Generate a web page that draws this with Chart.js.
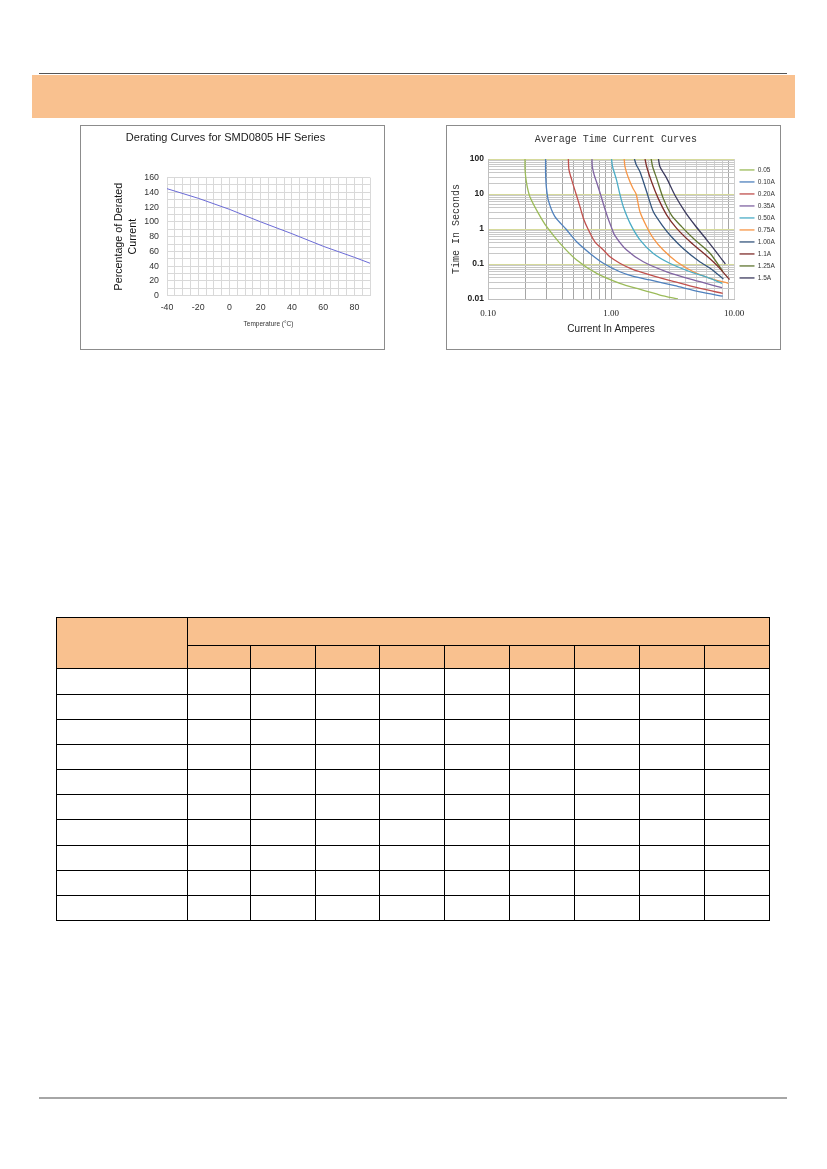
<!DOCTYPE html>
<html>
<head>
<meta charset="utf-8">
<script src="https://cdn.jsdelivr.net/npm/chart.js@4.4.1/dist/chart.umd.min.js"></script>
<style>
  body { margin: 0; background: #fff; }
  #page { position: relative; width: 827px; height: 1169px; overflow: hidden; }
  .topline { position: absolute; left: 39px; top: 73px; width: 748px; height: 1px; background: #555; }
  .band { position: absolute; left: 32px; top: 75px; width: 763px; height: 43px; background: #f9c18f; }
  .box { position: absolute; border: 1px solid #8c8c8c; }
  #leftBox { left: 80px; top: 125px; width: 303px; height: 223px; }
  #rightBox { left: 446px; top: 125px; width: 333px; height: 223px; }
  canvas { display: block; }
  table { position: absolute; left: 56px; top: 617px; width: 713px; border-collapse: collapse; table-layout: fixed; }
  td { border: 1.5px solid #000; padding: 0; }
  td.hd { background: #f9c18f; }
  .bottomline { position: absolute; left: 39px; top: 1097px; width: 748px; height: 2px; background: #a6a6a6; }
</style>
</head>
<body>
<div id="page">
  <div class="topline"></div>
  <div class="band"></div>
  <div class="box" id="leftBox"><canvas id="derating" width="303" height="223"></canvas></div>
  <div class="box" id="rightBox"><canvas id="timeCurrent" width="333" height="223"></canvas></div>
  <table id="specTable"></table>
  <div class="bottomline"></div>
</div>

<script>
// ---- derating chart data ----
const temps = [-40, -20, 0, 20, 40, 60, 80, 90];
const derated = [145, 132, 117, 100, 84, 67, 52, 44];

// ---- time-current curves data (current in A, time in s) ----
const seriesLabels = ['0.05', '0.10A', '0.20A', '0.35A', '0.50A', '0.75A', '1.00A', '1.1A', '1.25A', '1.5A'];
const seriesColors = ['#9bbb59', '#4f81bd', '#c0504d', '#8064a2', '#4bacc6', '#f79646', '#34557d', '#7f2d2a', '#5f7530', '#3b3a5e'];

const cur005 = [0.20, 0.20, 0.206, 0.219, 0.257, 0.30, 0.385, 0.526, 0.765, 1.18, 1.7, 2.5, 3.5];
const time005 = [100, 50, 20, 8.4, 2.8, 1.16, 0.39, 0.13, 0.054, 0.028, 0.019, 0.013, 0.01];

const cur010 = [0.294, 0.294, 0.298, 0.309, 0.35, 0.43, 0.526, 0.675, 0.866, 1.18, 1.5, 2.07, 3.3, 5.3, 8.1];
const time010 = [100, 40, 16, 6.7, 2.25, 1, 0.43, 0.2, 0.105, 0.06, 0.045, 0.035, 0.024, 0.016, 0.012];

const cur020 = [0.45, 0.455, 0.48, 0.52, 0.56, 0.60, 0.65, 0.74, 0.866, 0.98, 1.18, 1.5, 2.07, 3.2, 5.3, 8.1];
const time020 = [100, 50, 25, 10, 4.3, 1.9, 1, 0.43, 0.25, 0.16, 0.105, 0.07, 0.049, 0.032, 0.02, 0.0145];

const cur035 = [0.70, 0.705, 0.73, 0.77, 0.82, 0.87, 0.93, 1.0, 1.07, 1.34, 1.83, 2.84, 4.67, 8.0];
const time035 = [100, 60, 35, 20, 10, 5, 2.4, 1.2, 0.67, 0.25, 0.116, 0.06, 0.035, 0.021];

const cur050 = [1.01, 1.03, 1.11, 1.18, 1.26, 1.43, 1.72, 2.21, 3.0, 4.4, 6.0, 8.0];
const time050 = [100, 60, 25, 10, 4.3, 1.45, 0.49, 0.2, 0.105, 0.06, 0.042, 0.028];

const cur075 = [1.28, 1.30, 1.38, 1.50, 1.60, 1.72, 1.95, 2.21, 2.66, 3.42, 4.67, 6.4, 9.0];
const time075 = [100, 60, 30, 15, 10, 3.1, 1.16, 0.54, 0.25, 0.116, 0.06, 0.039, 0.028];

const cur100 = [1.55, 1.60, 1.72, 1.95, 2.21, 2.6, 3.1, 3.9, 5.2, 6.6, 8.2];
const time100 = [100, 70, 43, 11.6, 3.1, 1.3, 0.6, 0.27, 0.12, 0.07, 0.037];

const cur110 = [1.89, 1.95, 2.14, 2.42, 2.84, 3.42, 4.4, 5.8, 7.3, 9.2];
const time110 = [100, 60, 22, 7.5, 2.5, 1.04, 0.43, 0.19, 0.09, 0.036];

const cur125 = [2.12, 2.18, 2.35, 2.66, 3.1, 3.75, 4.8, 6.4, 8.1];
const time125 = [100, 60, 28, 7.5, 2.5, 1.17, 0.49, 0.2, 0.062];

const cur150 = [2.43, 2.5, 2.84, 3.3, 4.0, 4.8, 6.0, 7.5, 8.5];
const time150 = [100, 60, 28, 9.4, 3.1, 1.3, 0.49, 0.18, 0.1];

const seriesCurrents = [cur005, cur010, cur020, cur035, cur050, cur075, cur100, cur110, cur125, cur150];
const seriesTimes = [time005, time010, time020, time035, time050, time075, time100, time110, time125, time150];

// ---- log axis ticks ----
const xDecades = [0.1, 1, 10];
const xTickLabels = ['0.10', '1.00', '10.00'];
const yDecades = [0.01, 0.1, 1, 10, 100];
const yTickLabels = ['0.01', '0.1', '1', '10', '100'];
const minorSteps = [1, 2, 3, 4, 5, 6, 7, 8, 9];

// ---- table layout ----
const colWidths = [131, 63, 65, 64, 65, 65, 65, 65, 65, 65];
const rowHeights = [26, 25, 25, 25, 25, 25, 26, 25, 25, 25];

function logTicks(decades) {
  const vals = [];
  for (let i = 0; i < decades.length - 1; i++) {
    minorSteps.forEach(m => vals.push(+(decades[i] * m).toPrecision(3)));
  }
  vals.push(decades[decades.length - 1]);
  return vals;
}

function isDecade(v, decades) {
  return decades.some(d => Math.abs(v - d) < d * 1e-6);
}

// Derating chart
new Chart(document.getElementById('derating'), {
  type: 'line',
  data: {
    datasets: [{
      data: temps.map((t, i) => ({ x: t, y: derated[i] })),
      borderColor: '#6b6bd6',
      borderWidth: 1,
      pointRadius: 0,
      tension: 0,
      fill: false
    }]
  },
  options: {
    responsive: false,
    animation: false,
    layout: { padding: { left: 0, right: 14, top: 0, bottom: 0 } },
    plugins: {
      legend: { display: false },
      tooltip: { enabled: false },
      title: {
        display: true,
        text: 'Derating Curves for SMD0805 HF Series',
        color: '#1a1a1a',
        font: { family: 'Liberation Sans, Arial', size: 11, weight: 'normal', lineHeight: 1.2 },
        padding: { top: 5.4, bottom: 33 }
      }
    },
    scales: {
      x: {
        type: 'linear',
        min: -40, max: 90,
        afterFit: s => { s.height = 53.3; },
        grid: { color: '#d9d9d9', drawTicks: false },
        border: { color: '#d9d9d9' },
        ticks: {
          stepSize: 5, autoSkip: false, maxRotation: 0, padding: 7,
          color: '#333', font: { family: 'Liberation Sans, Arial', size: 8.8 },
          callback: v => (v % 20 === 0 ? String(v) : '')
        },
        title: {
          display: true, text: 'Temperature (\u00b0C)', color: '#333',
          font: { family: 'Liberation Sans, Arial', size: 6.5, lineHeight: 1.2 },
          padding: { top: 0, bottom: 21 }
        }
      },
      y: {
        min: 0, max: 160,
        afterFit: s => { s.width = 86; },
        grid: { color: '#d9d9d9', drawTicks: false },
        border: { color: '#d9d9d9' },
        ticks: {
          stepSize: 10, autoSkip: false, padding: 8,
          color: '#333', font: { family: 'Liberation Sans, Arial', size: 8.8 },
          callback: v => (v % 20 === 0 ? String(v) : '')
        },
        title: {
          display: true, text: ['Percentage of Derated', 'Current'], color: '#111',
          font: { family: 'Liberation Sans, Arial', size: 10.7, lineHeight: 1.3 },
          padding: { top: 31, bottom: 0 }
        }
      }
    }
  }
});

// Time-current chart
const tcDatasets = seriesLabels.map((label, k) => ({
  label: label,
  data: seriesCurrents[k].map((c, i) => ({ x: c, y: seriesTimes[k][i] })),
  borderColor: seriesColors[k],
  backgroundColor: seriesColors[k],
  borderWidth: 1.3,
  pointRadius: 0,
  tension: 0.25,
  fill: false
}));

const tcChart = new Chart(document.getElementById('timeCurrent'), {
  type: 'line',
  data: { datasets: tcDatasets },
  options: {
    responsive: false,
    animation: false,
    layout: { padding: { left: 0, right: 0, top: 0, bottom: 0 } },
    plugins: {
      tooltip: { enabled: false },
      legend: {
        position: 'right',
        align: 'start',
        title: { display: true, text: '', font: { size: 6 }, padding: { top: 28, bottom: 0 } },
        labels: {
          usePointStyle: true, pointStyle: 'line', pointStyleWidth: 15,
          padding: 5.5, color: '#333',
          font: { family: 'Liberation Sans, Arial', size: 6.5 }
        }
      },
      title: {
        display: true,
        text: 'Average Time Current Curves',
        color: '#333',
        font: { family: 'Liberation Mono, Courier New', size: 10, weight: 'normal', lineHeight: 1.2 },
        padding: { top: 7, bottom: 14 }
      }
    },
    scales: {
      x: {
        type: 'logarithmic',
        min: 0.1, max: 10,
        afterFit: s => { s.height = 50; },
        afterBuildTicks: s => { s.ticks = logTicks(xDecades).map(v => ({ value: v })); },
        grid: {
          drawTicks: false,
          color: ctx => {
            const v = ctx.tick ? ctx.tick.value : 0;
            if (v <= 1.0001 || Math.abs(v - 9) < 1e-6) return '#a6a6a6';
            return '#cfcfcf';
          }
        },
        border: { color: '#bfbfbf' },
        ticks: {
          autoSkip: false, maxRotation: 0, padding: 9.5, color: '#222',
          font: { family: 'Liberation Serif, Times New Roman', size: 9 },
          callback: v => {
            const i = xDecades.findIndex(d => Math.abs(v - d) < d * 1e-6);
            return i >= 0 ? xTickLabels[i] : '';
          }
        },
        title: {
          display: true, text: 'Current In Amperes', color: '#222',
          font: { family: 'Liberation Sans, Arial', size: 10, lineHeight: 1.2 },
          padding: { top: 0, bottom: 13.5 }
        }
      },
      y: {
        type: 'logarithmic',
        min: 0.01, max: 100,
        afterFit: s => { s.width = 41; },
        afterBuildTicks: s => { s.ticks = logTicks(yDecades).map(v => ({ value: v })); },
        grid: {
          drawTicks: false,
          color: ctx => {
            const v = ctx.tick ? ctx.tick.value : 0;
            return isDecade(v, yDecades) ? '#d6da9c' : '#c8c8c8';
          }
        },
        border: { color: '#bfbfbf' },
        ticks: {
          autoSkip: false, padding: 4, color: '#222',
          font: { family: 'Liberation Sans, Arial', size: 8.5, weight: 'bold' },
          callback: v => {
            const i = yDecades.findIndex(d => Math.abs(v - d) < d * 1e-6);
            return i >= 0 ? yTickLabels[i] : '';
          }
        },
        title: {
          display: true, text: 'Time In Seconds', color: '#333',
          font: { family: 'Liberation Mono, Courier New', size: 10, lineHeight: 1.2 },
          padding: { top: 3, bottom: 0 }
        }
      }
    }
  }
});

// nudge right padding so the plot area ends where the reference's does
(function () {
  const targetRight = 287;
  for (let k = 0; k < 3; k++) {
    const d = tcChart.chartArea.right - targetRight;
    if (Math.abs(d) < 0.5) break;
    tcChart.options.layout.padding.right += d;
    tcChart.update();
  }
})();

// table
(function () {
  const table = document.getElementById('specTable');
  const cg = document.createElement('colgroup');
  colWidths.forEach(w => {
    const c = document.createElement('col');
    c.style.width = w + 'px';
    cg.appendChild(c);
  });
  table.appendChild(cg);

  const r1 = table.insertRow();
  r1.style.height = '28px';
  const c0 = r1.insertCell(); c0.rowSpan = 2; c0.className = 'hd';
  const c1 = r1.insertCell(); c1.colSpan = colWidths.length - 1; c1.className = 'hd';
  const r2 = table.insertRow();
  r2.style.height = '23px';
  for (let i = 1; i < colWidths.length; i++) r2.insertCell().className = 'hd';

  rowHeights.forEach(h => {
    const r = table.insertRow();
    r.style.height = h + 'px';
    for (let i = 0; i < colWidths.length; i++) r.insertCell();
  });
})();
</script>
</body>
</html>
